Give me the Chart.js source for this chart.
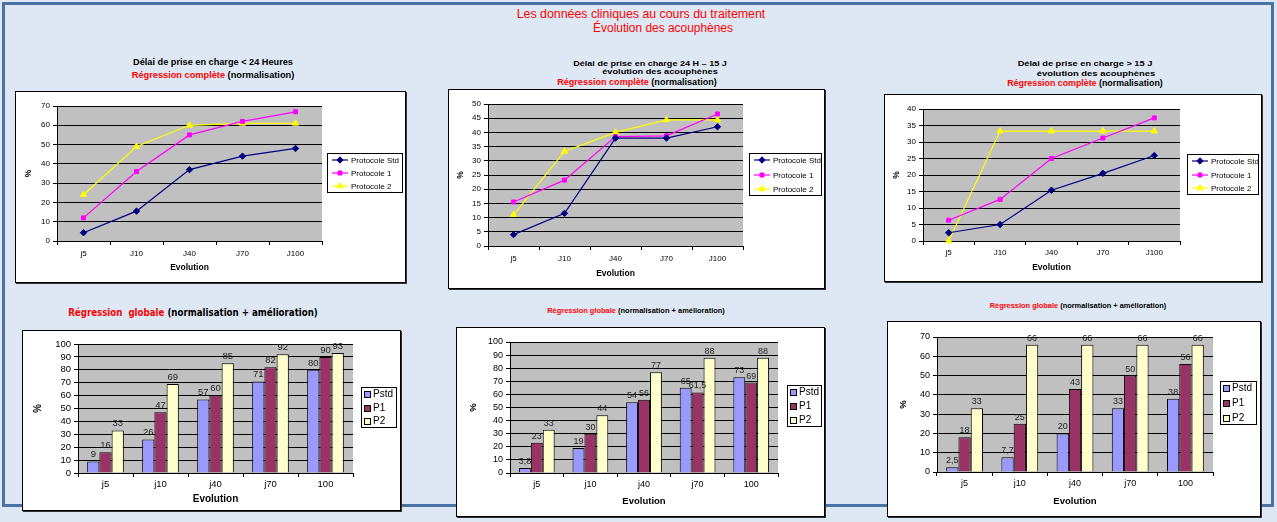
<!DOCTYPE html>
<html>
<head>
<meta charset="utf-8">
<script src="https://cdn.jsdelivr.net/npm/chart.js@4.4.1/dist/chart.umd.min.js"></script>
<style>
  body { margin: 0; width: 1277px; height: 522px; background: #dde8f4; position: relative; overflow: hidden; font-family: "Liberation Sans", Arial, sans-serif; }
  #frame { position: absolute; left: 2px; top: 2px; width: 1272px; height: 505px; box-sizing: border-box; border: 3px solid #4a72a2; }
  .box { position: absolute; box-sizing: border-box; background: #fff; border: 1px solid #000; box-shadow: 1px 1px 0 #333; z-index: 2; }
  .box canvas { position: absolute; left: 0; top: 0; }
  .t { position: absolute; white-space: nowrap; font-weight: bold; color: #000; font-family: "Liberation Sans Narrow", "Liberation Sans", Arial, sans-serif; }
  .red { color: #f00; }
</style>
</head>
<body>
<div id="frame"></div>

<div class="t" style="left:641px;top:14px;font-size:12px;font-weight:normal;color:#f00" data-w="248">Les données cliniques au cours du traitement</div>
<div class="t" style="left:663px;top:28px;font-size:12px;font-weight:normal;color:#f00" data-w="140">Évolution des acouphènes</div>

<div class="t" style="left:213px;top:62px;font-size:9px" data-w="160">Délai de prise en charge &lt; 24 Heures</div>
<div class="t" style="left:213px;top:75px;font-size:9px" data-w="163"><span class="red">Régression complète</span> (normalisation)</div>

<div class="t" style="left:650px;top:63px;font-size:8px" data-w="154">Délai de prise en charge 24 H – 15 J</div>
<div class="t" style="left:660px;top:71px;font-size:8px" data-w="115">évolution des acouphènes</div>
<div class="t" style="left:637px;top:82px;font-size:9px" data-w="160"><span class="red">Régression complète</span> (normalisation)</div>

<div class="t" style="left:1085px;top:63px;font-size:8px" data-w="135">Délai de prise en charge &gt; 15 J</div>
<div class="t" style="left:1096px;top:73px;font-size:8px" data-w="118">évolution des acouphènes</div>
<div class="t" style="left:1085px;top:83px;font-size:9px" data-w="156"><span class="red">Régression complète</span> (normalisation)</div>

<div class="t" style="left:193px;top:312px;font-size:10px;font-family:'DejaVu Sans',sans-serif" data-w="250"><span class="red">Régression&nbsp; globale</span> (normalisation + amélioration)</div>
<div class="t" style="left:636px;top:310px;font-size:7px" data-w="178"><span class="red">Régression globale</span> (normalisation + amélioration)</div>
<div class="t" style="left:1078px;top:305px;font-size:7px" data-w="177"><span class="red">Régression globale</span> (normalisation + amélioration)</div>

<div class="box" id="b1"><canvas id="c1"></canvas></div>
<div class="box" id="b2"><canvas id="c2"></canvas></div>
<div class="box" id="b3"><canvas id="c3"></canvas></div>
<div class="box" id="b4"><canvas id="c4"></canvas></div>
<div class="box" id="b5"><canvas id="c5"></canvas></div>
<div class="box" id="b6"><canvas id="c6"></canvas></div>

<script>
// categories and series names
const lineCategories = ['j5', 'J10', 'J40', 'J70', 'J100'];
const barCategories = ['j5', 'j10', 'j40', 'j70', '100'];
const lineSeriesNames = ['Protocole Std', 'Protocole 1', 'Protocole 2'];
const barSeriesNames = ['Pstd', 'P1', 'P2'];

// Régression complète, délai < 24 h
const complete24hStd = [4.3, 15.5, 37, 44, 48];
const complete24hP1 = [12, 36, 55, 62, 67];
const complete24hP2 = [24, 49, 60, 61, 61];
// Régression complète, délai 24 h - 15 j
const complete15jStd = [4, 11.5, 38, 38, 42];
const complete15jP1 = [15.5, 23.2, 38.5, 38.8, 46.5];
const complete15jP2 = [11, 33.3, 40, 44.4, 44.4];
// Régression complète, délai > 15 j
const completeOver15jStd = [2.5, 5, 15.4, 20.5, 25.9];
const completeOver15jP1 = [6.3, 12.6, 25, 31.2, 37.3];
const completeOver15jP2 = [0, 33.3, 33.3, 33.3, 33.3];

// Régression globale
const global24hPstd = [9, 26, 57, 71, 80];
const global24hP1 = [16, 47, 60, 82, 90];
const global24hP2 = [33, 69, 85, 92, 93];
const global15jPstd = [3.8, 19, 54, 65, 73];
const global15jP1 = [23, 30, 56, 61.5, 69];
const global15jP2 = [33, 44, 77, 88, 88];
const globalOver15jPstd = [2.5, 7.7, 20, 33, 38];
const globalOver15jP1 = [18, 25, 43, 50, 56];
const globalOver15jP2 = [33, 66, 66, 66, 66];

// y axis ranges [max, step]
const yRange1 = [70, 10];
const yRange2 = [50, 5];
const yRange3 = [40, 5];
const yRange4 = [100, 10];
const yRange5 = [100, 10];
const yRange6 = [70, 10];

Chart.defaults.font.family = '"Liberation Sans", Arial, sans-serif';
Chart.defaults.color = '#000';

// page positions of each box, plot area, axis texts and legend
const layouts = {
  c1: { box: [15, 91, 391, 192], plot: [57, 106, 322, 241], pctX: 29, catY: 254, evoY: 268, legend: [327, 153, 403, 193], font: 8, legendFont: 8 },
  c2: { box: [448, 89, 377, 200], plot: [488, 104, 743, 246], pctX: 461, catY: 259, evoY: 274, legend: [749, 153, 822, 196], font: 8, legendFont: 8 },
  c3: { box: [884, 94, 378, 188], plot: [923, 109, 1180, 241], pctX: 897, catY: 253, evoY: 268, legend: [1187, 154, 1259, 195], font: 8, legendFont: 8 },
  c4: { box: [22, 330, 379, 181], plot: [78, 344, 353, 473], pctX: 38, catY: 484, evoY: 499, legend: [361, 387, 397, 428], font: 9.5, legendFont: 10 },
  c5: { box: [456, 327, 369, 190], plot: [510, 342, 778, 473], pctX: 473, catY: 485, evoY: 501, legend: [787, 385, 822, 427], font: 9, legendFont: 10 },
  c6: { box: [887, 321, 374, 196], plot: [937, 337, 1213, 472], pctX: 903, catY: 484, evoY: 501, legend: [1220, 381, 1257, 425], font: 9, legendFont: 10 }
};

const plotBackground = {
  id: 'plotBackground',
  beforeDraw(chart) {
    const a = chart.chartArea;
    chart.ctx.save();
    chart.ctx.fillStyle = '#c0c0c0';
    chart.ctx.fillRect(a.left, a.top, a.right - a.left, a.bottom - a.top);
    chart.ctx.restore();
  }
};

const legendBox = {
  id: 'legendBox',
  afterDraw(chart, args, opts) {
    const ctx = chart.ctx;
    const [l, t, r, b] = opts.rect;
    ctx.save();
    ctx.fillStyle = '#fff';
    ctx.fillRect(l, t, r - l, b - t);
    ctx.strokeStyle = '#000';
    ctx.lineWidth = 1;
    ctx.strokeRect(l + 0.5, t + 0.5, r - l - 1, b - t - 1);
    const rowH = (b - t) / chart.data.datasets.length;
    ctx.font = opts.fontSize + 'px "Liberation Sans", Arial, sans-serif';
    ctx.textBaseline = 'middle';
    chart.data.datasets.forEach((ds, i) => {
      const cy = Math.round(t + rowH * (i + 0.5));
      if (opts.kind === 'line') {
        ctx.strokeStyle = ds.borderColor;
        ctx.lineWidth = ds.borderWidth;
        ctx.beginPath();
        ctx.moveTo(l + 5, cy);
        ctx.lineTo(l + 21, cy);
        ctx.stroke();
        ctx.fillStyle = ds.backgroundColor;
        ctx.lineWidth = 1;
        Chart.helpers.drawPoint(ctx, { pointStyle: ds.pointStyle, radius: ds.pointRadius, borderWidth: 1, rotation: 0 }, l + 13, cy);
        ctx.fillStyle = '#000';
        ctx.fillText(ds.label, l + 24, cy + 0.5);
      } else {
        ctx.fillStyle = ds.backgroundColor;
        ctx.fillRect(l + 3, cy - 3, 6, 6);
        ctx.strokeStyle = '#000';
        ctx.lineWidth = 1;
        ctx.strokeRect(l + 3.5, cy - 2.5, 6, 6);
        ctx.fillStyle = '#000';
        ctx.fillText(ds.label, l + 12, cy + 0.5);
      }
    });
    ctx.restore();
  }
};

const valueLabels = {
  id: 'valueLabels',
  afterDatasetsDraw(chart, args, opts) {
    if (!opts.show) return;
    const ctx = chart.ctx;
    ctx.save();
    ctx.font = opts.fontSize + 'px "Liberation Sans", Arial, sans-serif';
    ctx.fillStyle = '#222';
    ctx.textAlign = 'center';
    ctx.textBaseline = 'bottom';
    chart.data.datasets.forEach((ds, di) => {
      chart.getDatasetMeta(di).data.forEach((bar, i) => {
        ctx.fillText(String(ds.data[i]).replace('.', ','), bar.x, bar.y - 2);
      });
    });
    ctx.restore();
  }
};

function lineSets(std, p1, p2) {
  return [
    { label: lineSeriesNames[0], data: std, borderColor: '#000080', backgroundColor: '#000080', pointStyle: 'rectRot', pointRadius: 3.2, borderWidth: 1.2, pointBorderWidth: 1, clip: false },
    { label: lineSeriesNames[1], data: p1, borderColor: '#ff00ff', backgroundColor: '#ff00ff', pointStyle: 'rect', pointRadius: 2.8, borderWidth: 1.2, pointBorderWidth: 1, clip: false },
    { label: lineSeriesNames[2], data: p2, borderColor: '#ffff00', backgroundColor: '#ffff00', pointStyle: 'triangle', pointRadius: 3.6, borderWidth: 1.2, pointBorderWidth: 1, clip: false }
  ];
}

function barSets(pstd, p1, p2) {
  return [
    { label: barSeriesNames[0], data: pstd, backgroundColor: '#9999ff' },
    { label: barSeriesNames[1], data: p1, backgroundColor: '#993366' },
    { label: barSeriesNames[2], data: p2, backgroundColor: '#ffffcc' }
  ].map(d => Object.assign(d, { borderColor: '#000', borderWidth: 1, categoryPercentage: 0.667, barPercentage: 1 }));
}

function makeChart(id, type, labels, datasets, yRange) {
  const L = layouts[id];
  const [bx, by, bw, bh] = L.box;
  const box = document.getElementById('b' + id.slice(1));
  box.style.left = bx + 'px';
  box.style.top = by + 'px';
  box.style.width = bw + 'px';
  box.style.height = bh + 'px';
  const cw = bw - 2, ch = bh - 2, ox = bx + 1, oy = by + 1;
  const canvas = document.getElementById(id);
  canvas.width = cw;
  canvas.height = ch;
  canvas.style.width = cw + 'px';
  canvas.style.height = ch + 'px';

  const [pl, pt, pr, pb] = L.plot;
  const yAxisWidth = pl - ox;
  const xAxisHeight = oy + ch - pb;
  const lh = L.font * 1.2;
  const titleLh = (L.font + 0.5) * 1.2;
  const tickLen = 4;

  return new Chart(canvas, {
    type: type,
    data: { labels: labels, datasets: datasets },
    plugins: [plotBackground, legendBox, valueLabels],
    options: {
      responsive: false,
      animation: false,
      devicePixelRatio: 1,
      layout: { padding: { left: 0, top: pt - oy, right: ox + cw - pr, bottom: 0 } },
      plugins: {
        legend: { display: false },
        tooltip: { enabled: false },
        legendBox: { rect: L.legend.map((v, i) => v - (i % 2 === 0 ? ox : oy)), fontSize: L.legendFont, kind: type },
        valueLabels: { show: type === 'bar', fontSize: L.font }
      },
      scales: {
        x: {
          offset: true,
          grid: { drawOnChartArea: false, offset: true, tickLength: tickLen, color: '#000' },
          border: { color: '#000' },
          ticks: { font: { size: L.font }, padding: L.catY - pb - tickLen - lh / 2, maxRotation: 0, autoSkip: false },
          title: { display: true, text: 'Evolution', font: { size: L.font + 0.5, weight: 'bold' }, padding: { top: 0, bottom: (oy + ch) - L.evoY - titleLh / 2 } },
          afterFit(scale) { scale.height = xAxisHeight; }
        },
        y: {
          min: 0,
          max: yRange[0],
          ticks: { stepSize: yRange[1], font: { size: L.font }, padding: 3, autoSkip: false },
          grid: { color: '#000', tickLength: tickLen },
          border: { color: '#000' },
          title: { display: true, text: '%', font: { size: L.font + 0.5, weight: 'bold' }, padding: { top: L.pctX - ox - titleLh / 2, bottom: 0 } },
          afterFit(scale) { scale.width = yAxisWidth; }
        }
      }
    }
  });
}

makeChart('c1', 'line', lineCategories, lineSets(complete24hStd, complete24hP1, complete24hP2), yRange1);
makeChart('c2', 'line', lineCategories, lineSets(complete15jStd, complete15jP1, complete15jP2), yRange2);
makeChart('c3', 'line', lineCategories, lineSets(completeOver15jStd, completeOver15jP1, completeOver15jP2), yRange3);
makeChart('c4', 'bar', barCategories, barSets(global24hPstd, global24hP1, global24hP2), yRange4);
makeChart('c5', 'bar', barCategories, barSets(global15jPstd, global15jP1, global15jP2), yRange5);
makeChart('c6', 'bar', barCategories, barSets(globalOver15jPstd, globalOver15jP1, globalOver15jP2), yRange6);

// squeeze the titles to the widths seen in the picture
document.querySelectorAll('.t').forEach(el => {
  const target = +el.dataset.w;
  const w = el.offsetWidth;
  el.style.transform = 'translate(-50%, -50%) scaleX(' + (target / w) + ')';
});
</script>
</body>
</html>
